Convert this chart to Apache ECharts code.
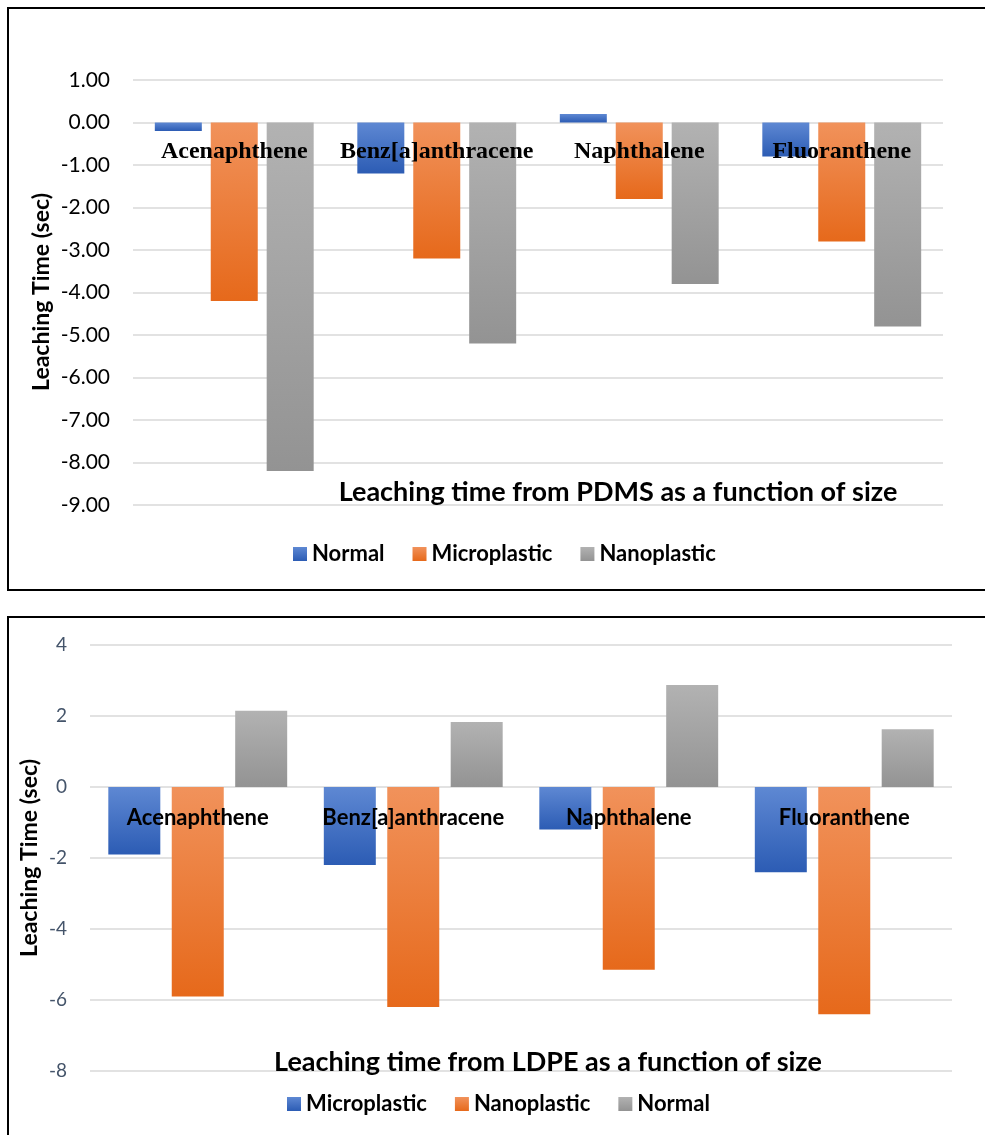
<!DOCTYPE html>
<html>
<head>
<meta charset="utf-8">
<script src="https://cdn.jsdelivr.net/npm/echarts@6/dist/echarts.min.js"></script>
<style>
html,body{margin:0;padding:0;background:#fff;}
#c1{position:absolute;left:0;top:0;width:985px;height:600px;}
#c2{position:absolute;left:0;top:600px;width:985px;height:535px;}
</style>
</head>
<body>
<div id="c1"></div>
<div id="c2"></div>
<script>
// ---- Data ----
const categories = ['Acenaphthene', 'Benz[a]anthracene', 'Naphthalene', 'Fluoranthene'];

// Chart 1: PDMS
const pdmsTitle = 'Leaching time from PDMS as a function of size';
const pdmsNormal = [-0.2, -1.2, 0.2, -0.8];
const pdmsMicro = [-4.2, -3.2, -1.8, -2.8];
const pdmsNano = [-8.2, -5.2, -3.8, -4.8];
const pdmsRange = [-9, 1, 1]; // min, max, interval

// Chart 2: LDPE
const ldpeTitle = 'Leaching time from LDPE as a function of size';
const ldpeMicro = [-1.9, -2.2, -1.2, -2.4];
const ldpeNano = [-5.9, -6.2, -5.15, -6.4];
const ldpeNormal = [2.15, 1.83, 2.87, 1.63];
const ldpeRange = [-8, 4, 2];

const yAxisName = 'Leaching Time (sec)';

// ---- Styles ----
function grad(top, bottom) {
  return new echarts.graphic.LinearGradient(0, 0, 0, 1, [
    {offset: 0, color: top}, {offset: 1, color: bottom}
  ]);
}
const BLUE = () => grad('#5E88D3', '#2C5CB4');
const ORANGE = () => grad('#F1925B', '#E6691B');
const GRAY = () => grad('#B2B2B2', '#939393');
const sans = 'Lato, "Open Sans", sans-serif';

function barSeries(name, data, color, width, gap) {
  return {
    name: name, type: 'bar', data: data,
    barWidth: width, barGap: gap,
    itemStyle: {color: color},
    emphasis: {disabled: true}
  };
}
// offset that moves the category axis from the grid bottom up to value 0
function zeroOffset(gridHeight, range) {
  return -gridHeight * (0 - range[0]) / (range[1] - range[0]);
}

// ---- Chart 1 ----
const g1 = {left: 133, right: 42, top: 80, bottom: 95};
const h1 = 600 - g1.top - g1.bottom;
const c1 = echarts.init(document.getElementById('c1'));
c1.setOption({
  animation: false,
  grid: Object.assign({containLabel: false}, g1),
  xAxis: {
    type: 'category', data: categories, z: 10, position: 'bottom',
    offset: zeroOffset(h1, pdmsRange),
    axisLine: {show: false, onZero: false},
    axisTick: {show: false},
    axisLabel: {interval: 0, margin: 17, color: '#000', fontFamily: '"Liberation Serif", "Times New Roman", serif',
                fontWeight: 'bold', fontSize: 24}
  },
  yAxis: {
    type: 'value', min: pdmsRange[0], max: pdmsRange[1], interval: pdmsRange[2],
    axisLine: {show: false}, axisTick: {show: false},
    axisLabel: {margin: 23, color: '#000', fontFamily: sans, fontSize: 21,
                formatter: v => v.toFixed(2)},
    splitLine: {lineStyle: {color: '#D9D9D9', width: 1.5}}
  },
  legend: {
    left: 293, top: 543, padding: 0, itemWidth: 14, itemHeight: 14, itemGap: 28, icon: 'rect',
    textStyle: {fontFamily: sans, fontWeight: 'bold', fontSize: 22, color: '#000'},
    data: ['Normal', 'Microplastic', 'Nanoplastic']
  },
  graphic: [
    {type: 'rect', shape: {x: 8, y: 8, width: 1000, height: 582},
     style: {fill: 'none', stroke: '#000', lineWidth: 2}, silent: true, z: 100},
    {type: 'text', x: 618, y: 492,
     style: {text: pdmsTitle, textAlign: 'center', textVerticalAlign: 'middle',
             font: 'bold 27px Lato, "Open Sans", sans-serif', fill: '#000'}, z: 100},
    {type: 'text', x: 42, y: 292, rotation: Math.PI / 2,
     style: {text: yAxisName, textAlign: 'center', textVerticalAlign: 'middle',
             font: 'bold 23px Lato, "Open Sans", sans-serif', fill: '#000'}, z: 100}
  ],
  series: [
    barSeries('Normal', pdmsNormal, BLUE(), 47, '19%'),
    barSeries('Microplastic', pdmsMicro, ORANGE(), 47, '19%'),
    barSeries('Nanoplastic', pdmsNano, GRAY(), 47, '19%')
  ]
});

// ---- Chart 2 ----
const g2 = {left: 90, right: 33, top: 45, bottom: 64};
const h2 = 535 - g2.top - g2.bottom;
const c2 = echarts.init(document.getElementById('c2'));
c2.setOption({
  animation: false,
  grid: Object.assign({containLabel: false}, g2),
  xAxis: {
    type: 'category', data: categories, z: 10, position: 'bottom',
    offset: zeroOffset(h2, ldpeRange),
    axisLine: {show: false, onZero: false},
    axisTick: {show: false},
    axisLabel: {interval: 0, margin: 20, color: '#000', fontFamily: sans,
                fontWeight: 'bold', fontSize: 22}
  },
  yAxis: {
    type: 'value', min: ldpeRange[0], max: ldpeRange[1], interval: ldpeRange[2],
    axisLine: {show: false}, axisTick: {show: false},
    axisLabel: {margin: 23, color: '#44546A', fontFamily: sans, fontSize: 19},
    splitLine: {lineStyle: {color: '#D9D9D9', width: 1.5}}
  },
  legend: {
    left: 287, top: 493, padding: 0, itemWidth: 14, itemHeight: 14, itemGap: 28, icon: 'rect',
    textStyle: {fontFamily: sans, fontWeight: 'bold', fontSize: 22, color: '#000'},
    data: ['Microplastic', 'Nanoplastic', 'Normal']
  },
  graphic: [
    {type: 'rect', shape: {x: 8, y: 17, width: 1000, height: 600},
     style: {fill: 'none', stroke: '#000', lineWidth: 2}, silent: true, z: 100},
    {type: 'text', x: 548, y: 462,
     style: {text: ldpeTitle, textAlign: 'center', textVerticalAlign: 'middle',
             font: 'bold 27px Lato, "Open Sans", sans-serif', fill: '#000'}, z: 100},
    {type: 'text', x: 30, y: 258, rotation: Math.PI / 2,
     style: {text: yAxisName, textAlign: 'center', textVerticalAlign: 'middle',
             font: 'bold 23px Lato, "Open Sans", sans-serif', fill: '#000'}, z: 100}
  ],
  series: [
    barSeries('Microplastic', ldpeMicro, BLUE(), 52, '22%'),
    barSeries('Nanoplastic', ldpeNano, ORANGE(), 52, '22%'),
    barSeries('Normal', ldpeNormal, GRAY(), 52, '22%')
  ]
});
</script>
</body>
</html>
